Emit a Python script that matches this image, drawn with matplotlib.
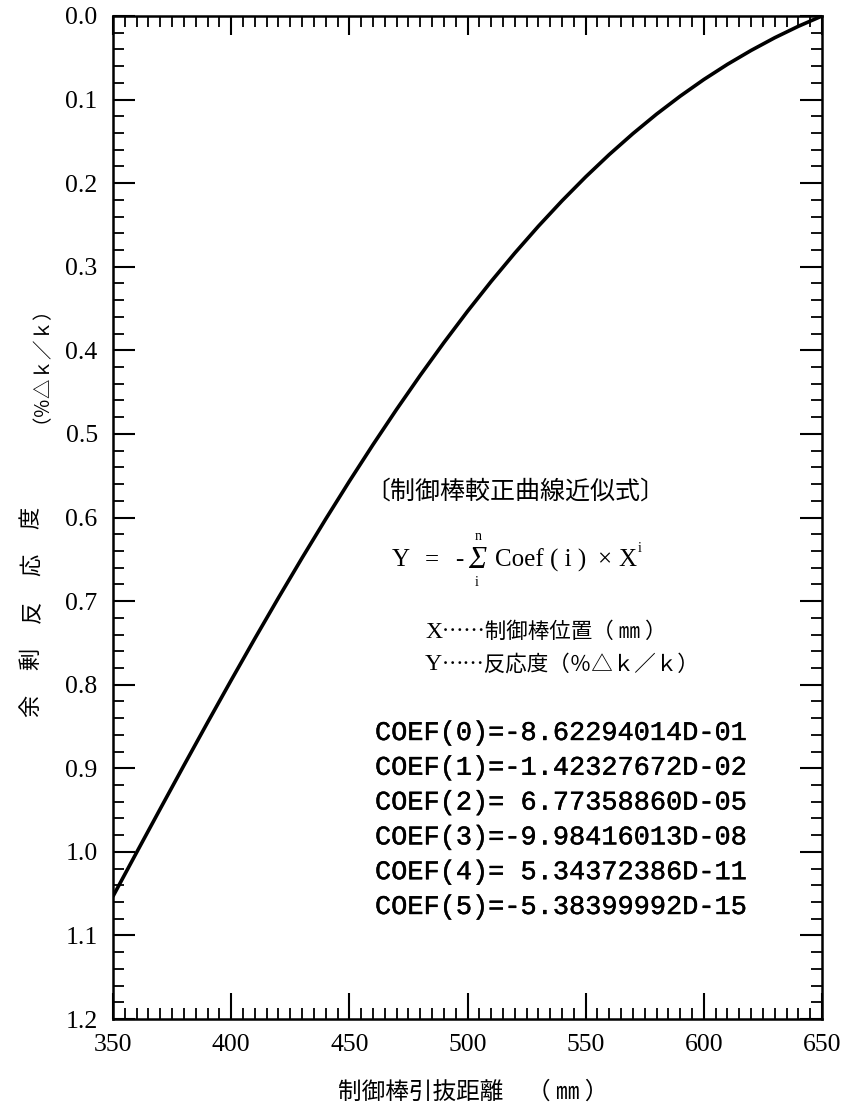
import matplotlib
matplotlib.use("Agg")
import matplotlib.pyplot as plt
import matplotlib.patheffects as pe
from matplotlib.ticker import MultipleLocator, FormatStrFormatter

# rod position (mm) and excess reactivity (%dk/k) along the calibration curve
pos = [350, 360, 370, 380, 390, 400, 410, 420, 430, 440, 450,
       460, 470, 480, 490, 500, 510, 520, 530, 540, 550,
       560, 570, 580, 590, 600, 610, 620, 630, 640, 650]
worth = [1.0532, 1.0007, 0.9485, 0.8966, 0.8453, 0.7947, 0.7449, 0.6961,
         0.6484, 0.6019, 0.5567, 0.5129, 0.4706, 0.4299, 0.3908, 0.3533,
         0.3176, 0.2837, 0.2515, 0.2211, 0.1925, 0.1657, 0.1407, 0.1174,
         0.0959, 0.0760, 0.0578, 0.0412, 0.0260, 0.0123, 0.0000]

coef_labels = ["COEF(0)=-8.62294014D-01",
               "COEF(1)=-1.42327672D-02",
               "COEF(2)= 6.77358860D-05",
               "COEF(3)=-9.98416013D-08",
               "COEF(4)= 5.34372386D-11",
               "COEF(5)=-5.38399992D-15"]

W, H = 855, 1109
fig = plt.figure(figsize=(W / 100, H / 100), dpi=100)
ax = fig.add_axes([113 / W, 1 - 1019 / H, (822 - 113) / W, (1019 - 16) / H])

ax.plot(pos, worth, color="black", lw=2.6, solid_capstyle="round")

ax.set_xlim(350, 650)
ax.set_ylim(1.2, 0.0)
ax.xaxis.set_major_locator(MultipleLocator(50))
ax.xaxis.set_minor_locator(MultipleLocator(5))
ax.yaxis.set_major_locator(MultipleLocator(0.1))
ax.yaxis.set_minor_locator(MultipleLocator(0.02))
ax.yaxis.set_major_formatter(FormatStrFormatter("%.1f"))
ax.tick_params(which="both", direction="in", top=True, right=True, color="black")
ax.tick_params(which="major", length=16, width=1.5, pad=11, labelsize=18.5)
ax.tick_params(which="minor", length=8, width=1.3)
# bottom major ticks run a bit longer than the top ones
for t in ax.xaxis.get_major_ticks():
    t.tick1line.set_markersize(19)
    t.tick2line.set_markersize(14)
for lab in ax.get_xticklabels() + ax.get_yticklabels():
    lab.set_family("Liberation Serif")
for s in ax.spines.values():
    s.set_linewidth(1.8)

jp = "Noto Sans CJK JP"
serif = "Liberation Serif"


def put(x, y, s, **kw):
    fig.text(x / W, 1 - y / H, s, va="center", **kw)


# axis titles
put(338, 1092, "制御棒引抜距離　（ ㎜ ）", family=jp, fontsize=17)
for ch, yy in zip("度応反剰余", [518, 565, 612, 659, 706]):
    put(31, yy, ch, family=jp, fontsize=16, rotation=90, ha="center")
put(31, 355, "（％△ｋ／ｋ）", family=jp, fontsize=14, rotation=90, ha="center")

# approximation formula block
put(365, 492, "〔制御棒較正曲線近似式〕", family=jp, fontsize=18)
put(392, 560, "Y", family=serif, fontsize=18)
put(425, 560, "=", family=serif, fontsize=18)
put(455, 560, "-", family=serif, fontsize=18)
put(477, 561, "Σ", family=serif, fontsize=22, style="italic", ha="center")
put(478, 537, "n", family=serif, fontsize=10, ha="center")
put(477, 582, "i", family=serif, fontsize=10, ha="center")
put(495, 560, "Coef ( i )", family=serif, fontsize=18)
put(597, 560, "×", family=serif, fontsize=18)
put(618, 560, "X", family=serif, fontsize=18)
put(638, 549, "i", family=serif, fontsize=10)

put(425, 632, "X", family=serif, fontsize=17)
put(442, 632, "……制御棒位置（ ㎜ ）", family=jp, fontsize=15.5)
put(425, 665, "Y", family=serif, fontsize=17)
put(442, 665, "……反応度（％△ｋ／ｋ）", family=jp, fontsize=15.5)

thick = [pe.withStroke(linewidth=0.3, foreground="black")]
for k, s in enumerate(coef_labels):
    put(375, 733 + 34.8 * k, s, family="Liberation Mono", fontsize=19.4,
        path_effects=thick)

fig.savefig("out.png", dpi=100)
